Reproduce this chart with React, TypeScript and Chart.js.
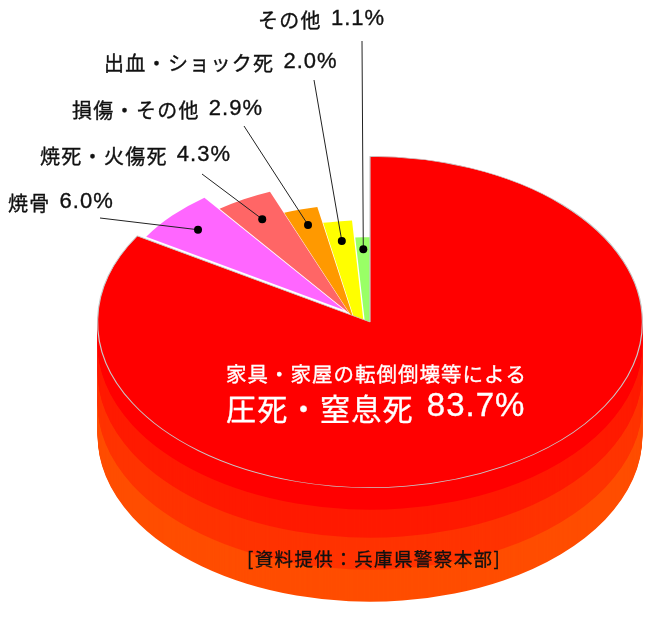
import React, { useEffect, useRef } from "react";
import { Chart, registerables } from "chart.js";

Chart.register(...registerables);

const categories = ["焼骨", "焼死・火傷死", "損傷・その他", "出血・ショック死", "その他", "圧死・窒息死"];
const values = [6.0, 4.3, 2.9, 2.0, 1.1, 83.7];
const sliceColors = ["#ff66ff", "#ff6666", "#ff9900", "#ffff00", "#99ff66", "#ff0000"];
const sideColors = ["#ff0000", "#ff1a00", "#ff3300", "#ff4d00"];
const sideDepths = [22, 50, 82, 114];

const SQUASH = 166 / 273;
const radiusFractions = [0.85, 0.788, 0.696, 0.85, 0.784, 1];
const apexShiftX = [-26, -21, -16, -2, 0, 0];
const apexShiftY = [-12, -9, -2, 39, 45, 0];
const dotFractions = [0.85, 0.825, 0.86, 0.86, 0.907];
const labelX = [8, 40, 72, 104, 258];
const labelY = [203, 156, 110, 63, 20];
const leaderEndX = [100, 202, 244, 314, 362];
const leaderEndY = [218, 174, 126, 80, 41];
const FONT = '"Liberation Sans", "Noto Sans CJK JP", sans-serif';
const JP_FONT = '"Noto Sans CJK JP", "Liberation Sans", sans-serif';

function App() {
  const ref = useRef<HTMLCanvasElement | null>(null);

  useEffect(() => {
    const canvas = ref.current;
    if (!canvas) return;

    const dotPoint = (arc: any, f: number) => {
      const mid = (arc.startAngle + arc.endAngle) / 2;
      const r = arc.outerRadius * f;
      return { x: arc.x + Math.cos(mid) * r, y: arc.cy0 + (arc.y - arc.cy0) * SQUASH + Math.sin(mid) * r * SQUASH };
    };

    const pie3d = {
      id: "pie3d",
      beforeDatasetDraw(chart: any, args: any) {
        const { ctx, chartArea } = chart;
        const meta = args.meta;
        const cx = (chartArea.left + chartArea.right) / 2;
        const cy = (chartArea.top + chartArea.bottom) / 2;
        const baseR = meta.controller.outerRadius;
        meta.data.forEach((arc: any, i: number) => {
          arc.x = cx + apexShiftX[i];
          arc.y = cy + apexShiftY[i] / SQUASH;
          arc.cy0 = cy;
          arc.outerRadius = baseR * radiusFractions[i];
        });
        const squash = (depth: number) => {
          ctx.setTransform(1, 0, 0, SQUASH, 0, cy * (1 - SQUASH) + depth);
        };
        const red = meta.data[meta.data.length - 1];
        const saved = red.options;
        ctx.save();
        for (let b = sideDepths.length - 1; b >= 0; b--) {
          const from = sideDepths[b];
          const to = b === 0 ? 1 : sideDepths[b - 1];
          red.options = { ...saved, backgroundColor: sideColors[b], borderColor: sideColors[b], borderWidth: 0 };
          for (let d = from; d >= to; d--) {
            squash(d);
            red.draw(ctx);
          }
        }
        red.options = saved;
        squash(0);
      },
      afterDatasetDraw(chart: any) {
        chart.ctx.restore();
      },
      afterDraw(chart: any) {
        const { ctx } = chart;
        const meta = chart.getDatasetMeta(0);
        const run = (text: string, x: number, y: number, font: string, spacing: number, weight = 0.35) => {
          ctx.font = font;
          ctx.letterSpacing = `${spacing}px`;
          ctx.fillText(text, x, y);
          ctx.strokeStyle = ctx.fillStyle;
          ctx.lineWidth = weight;
          ctx.strokeText(text, x, y);
          const w = ctx.measureText(text).width;
          ctx.letterSpacing = "0px";
          return x + w;
        };
        ctx.save();
        ctx.textBaseline = "middle";
        ctx.textAlign = "left";
        for (let i = 0; i < 5; i++) {
          const p = dotPoint(meta.data[i], dotFractions[i]);
          ctx.strokeStyle = "#222";
          ctx.lineWidth = 1;
          ctx.beginPath();
          ctx.moveTo(p.x, p.y);
          ctx.lineTo(leaderEndX[i], leaderEndY[i]);
          ctx.stroke();
          ctx.fillStyle = "#000";
          ctx.beginPath();
          ctx.arc(p.x, p.y, 4, 0, Math.PI * 2);
          ctx.fill();
          ctx.fillStyle = "#111";
          const end = run(categories[i], labelX[i], labelY[i], `20px ${JP_FONT}`, 1.3);
          run(`${values[i].toFixed(1)}%`, end + 9, labelY[i] - 1, `22px ${FONT}`, 1);
        }
        ctx.fillStyle = "#fff";
        run("家具・家屋の転倒倒壊等による", 226, 374, `20.5px ${JP_FONT}`, 1);
        const end = run(categories[5], 226, 408.5, `30px ${JP_FONT}`, 1.3);
        run(`${values[5].toFixed(1)}%`, end + 13, 407, `33px ${FONT}`, 1);
        ctx.fillStyle = "#111";
        run("[資料提供：兵庫県警察本部]", 247, 558.5, `18.5px ${JP_FONT}`, 1.4);
        ctx.restore();
      },
    };

    const chart = new Chart(canvas, {
      type: "pie",
      data: {
        labels: categories,
        datasets: [
          {
            data: values,
            backgroundColor: sliceColors,
            borderColor: ["transparent", "transparent", "transparent", "transparent", "transparent", "#c8c8c8"],
            borderWidth: [0, 0, 0, 0, 0, 1.2],
            clip: false,
          } as any,
        ],
      },
      options: {
        responsive: false,
        animation: false,
        rotation: 301.32,
        layout: { padding: { left: 97, right: 7, top: 49, bottom: 25 } },
        plugins: { legend: { display: false }, tooltip: { enabled: false } },
        events: [],
      },
      plugins: [pie3d],
    });
    return () => chart.destroy();
  }, []);

  return (
    <canvas
      ref={ref}
      width={650}
      height={620}
      style={{ position: "absolute", left: 0, top: 0, width: 650, height: 620, display: "block", background: "#fff" }}
    />
  );
}

export default App;
